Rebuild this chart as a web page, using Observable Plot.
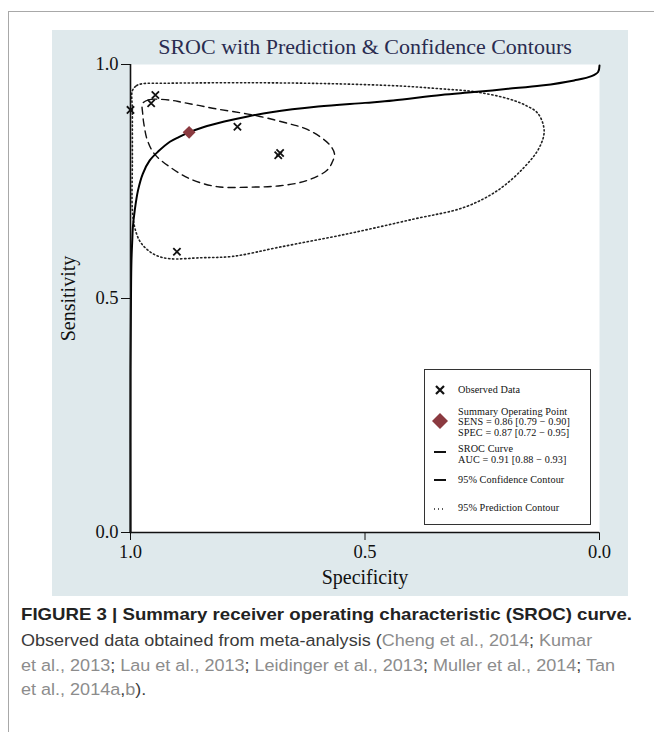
<!DOCTYPE html>
<html><head><meta charset="utf-8">
<script src="https://cdn.jsdelivr.net/npm/d3@7"></script>
<script src="https://cdn.jsdelivr.net/npm/@observablehq/plot@0.6"></script>
<style>
body{margin:0;background:#fff;width:654px;height:732px;position:relative;overflow:hidden;font-family:"Liberation Serif",serif}
#frameTop{position:absolute;left:8px;top:11px;width:646px;height:0;border-top:1px solid #a8a8a8}
#frameLeft{position:absolute;left:8px;top:11px;width:0;height:721px;border-left:1px solid #a8a8a8}
#chart{position:absolute;left:52px;top:30px}
#legend{position:absolute;left:424px;top:369px;width:165px;height:154px;border:1.5px solid #333;background:#fff}
.lt{position:absolute;left:33px;font-size:10.2px;line-height:10.2px;white-space:nowrap;color:#111;letter-spacing:0.1px}
.ls{position:absolute;left:5px}
.cap{position:absolute;left:21px;white-space:nowrap;font-family:"Liberation Sans",Arial,sans-serif;transform-origin:0 50%;line-height:24px}
.cap.b{font-weight:bold;font-size:16.5px;color:#222}
.cap.r{font-size:16.3px;color:#3a3a3a}
.g{color:#8c8c8c}
</style></head>
<body>
<div id="frameTop"></div><div id="frameLeft"></div>
<div id="chart"></div>
<div id="legend">
  <svg class="ls" style="top:13px" width="20" height="14"><path d="M6,3L14,11M6,11L14,3" stroke="#111" stroke-width="2.2"/></svg>
  <div class="lt" style="top:15px">Observed Data</div>
  <svg class="ls" style="top:41px" width="20" height="20"><path d="M10,2L18,10L10,18L2,10Z" fill="#8b3a40"/></svg>
  <div class="lt" style="top:36.5px">Summary Operating Point</div>
  <div class="lt" style="top:47px">SENS = 0.86 [0.79 − 0.90]</div>
  <div class="lt" style="top:57.5px">SPEC = 0.87 [0.72 − 0.95]</div>
  <svg class="ls" style="top:75px" width="20" height="14"><path d="M4,7H16" stroke="#111" stroke-width="2"/></svg>
  <div class="lt" style="top:74px">SROC Curve</div>
  <div class="lt" style="top:84.5px">AUC = 0.91 [0.88 − 0.93]</div>
  <svg class="ls" style="top:103px" width="20" height="14"><path d="M4,7H16" stroke="#111" stroke-width="2"/></svg>
  <div class="lt" style="top:105px">95% Confidence Contour</div>
  <svg class="ls" style="top:131px" width="20" height="14"><path d="M4,8H16" stroke="#222" stroke-width="1.3" stroke-dasharray="1,3"/></svg>
  <div class="lt" style="top:133px">95% Prediction Contour</div>
</div>
<div class="cap b" id="c1" style="top:602px">FIGURE 3 | Summary receiver operating characteristic (SROC) curve.</div>
<div class="cap r" id="c2" style="top:628px">Observed data obtained from meta-analysis (<span class="g">Cheng et al., 2014</span>; <span class="g">Kumar</span></div>
<div class="cap r" id="c3" style="top:653px"><span class="g">et al., 2013</span>; <span class="g">Lau et al., 2013</span>; <span class="g">Leidinger et al., 2013</span>; <span class="g">Muller et al., 2014</span>; <span class="g">Tan</span></div>
<div class="cap r" id="c4" style="top:677px"><span class="g">et al., 2014a</span>,<span class="g">b</span>).</div>
<script>
// ---- data ----
const xTicks = [1, 0.5, 0];
const yTicks = [0, 0.5, 1];
const obsSpec = [1.000, 0.956, 0.947, 0.772, 0.685, 0.681, 0.901];
const obsSens = [0.903, 0.917, 0.935, 0.867, 0.806, 0.811, 0.600];
const summarySpec = [0.875];
const summarySens = [0.855];
const srocSpec = [1.000, 1.000, 0.999, 0.998, 0.996, 0.995, 0.991, 0.984, 0.974, 0.959, 0.940, 0.916, 0.897, 0.875, 0.845, 0.800, 0.750, 0.700, 0.600, 0.500, 0.440, 0.338, 0.268, 0.195, 0.124, 0.054, 0.017, 0.003, 0.000];
const srocSens = [0.000, 0.350, 0.500, 0.580, 0.630, 0.652, 0.688, 0.731, 0.766, 0.795, 0.815, 0.835, 0.845, 0.855, 0.866, 0.878, 0.889, 0.898, 0.910, 0.918, 0.923, 0.935, 0.941, 0.948, 0.955, 0.966, 0.975, 0.984, 0.998];
const confSpec = [0.974, 0.959, 0.949, 0.916, 0.889, 0.852, 0.816, 0.767, 0.724, 0.660, 0.627, 0.595, 0.574, 0.565, 0.570, 0.581, 0.624, 0.681, 0.745, 0.816, 0.874, 0.916, 0.949, 0.964, 0.971, 0.974];
const confSens = [0.917, 0.925, 0.926, 0.924, 0.919, 0.912, 0.905, 0.897, 0.889, 0.873, 0.863, 0.845, 0.827, 0.809, 0.791, 0.774, 0.752, 0.741, 0.738, 0.739, 0.756, 0.781, 0.809, 0.838, 0.870, 0.895];
const predSpec = [0.996, 0.987, 0.974, 0.923, 0.745, 0.574, 0.424, 0.338, 0.268, 0.195, 0.156, 0.131, 0.118, 0.128, 0.160, 0.217, 0.288, 0.395, 0.538, 0.681, 0.782, 0.852, 0.916, 0.945, 0.966, 0.981, 0.991, 0.996, 0.996, 0.996];
const predSens = [0.944, 0.955, 0.959, 0.960, 0.961, 0.959, 0.954, 0.948, 0.942, 0.927, 0.912, 0.895, 0.859, 0.823, 0.781, 0.731, 0.695, 0.670, 0.638, 0.610, 0.590, 0.587, 0.585, 0.592, 0.606, 0.624, 0.652, 0.688, 0.795, 0.902];

const zip = (a, b) => a.map((v, i) => ({spec: v, sens: b[i]}));
const obs = zip(obsSpec, obsSens);
const summary = zip(summarySpec, summarySens);
const sroc = zip(srocSpec, srocSens);
const conf = zip(confSpec, confSens);
const pred = zip(predSpec, predSens);

const chart = Plot.plot({
  width: 576, height: 566,
  marginLeft: 78, marginRight: 29, marginTop: 34, marginBottom: 64,
  style: {background: "#dfe9ec", fontFamily: "Liberation Serif", fontSize: "18.5px", color: "#111", overflow: "visible"},
  x: {domain: [1, 0], ticks: xTicks, tickFormat: d3.format(".1f"), tickSize: 8, tickPadding: 4, label: null},
  y: {domain: [0, 1], ticks: yTicks, tickFormat: d3.format(".1f"), tickSize: 9, tickPadding: 3, label: null},
  marks: [
    Plot.frame({fill: "white", stroke: null}),
    Plot.line(pred, {x: "spec", y: "sens", curve: "catmull-rom-closed", stroke: "#222", strokeWidth: 1.6, strokeDasharray: "1.3,2.7"}),
    Plot.line(conf, {x: "spec", y: "sens", curve: "catmull-rom-closed", stroke: "#111", strokeWidth: 1.4, strokeDasharray: "7,5"}),
    Plot.line(sroc, {x: "spec", y: "sens", curve: "catmull-rom", stroke: "#000", strokeWidth: 2}),
    Plot.ruleX([1], {stroke: "#111", strokeWidth: 1.6}),
    Plot.ruleY([0], {stroke: "#111", strokeWidth: 1.6}),
    Plot.dot(obs, {x: "spec", y: "sens", symbol: "times", r: 3.4, stroke: "#111", strokeWidth: 1.8}),
    Plot.dot(summary, {x: "spec", y: "sens", symbol: "diamond2", r: 5.8, fill: "#8b3a40", stroke: null}),
    Plot.text(["SROC with Prediction & Confidence Contours"], {frameAnchor: "top", lineAnchor: "middle", dy: -17.5, fontSize: 22, fill: "#2a2c50", text: d => d}),
    Plot.text(["Specificity"], {frameAnchor: "bottom", lineAnchor: "middle", dy: 45, fontSize: 20, fill: "#111", text: d => d}),
    Plot.text(["Sensitivity"], {frameAnchor: "left", textAnchor: "middle", lineAnchor: "middle", dx: -62, rotate: -90, fontSize: 20, fill: "#111", text: d => d})
  ]
});
document.getElementById("chart").appendChild(chart);

// fit caption line widths to the reference
function fit(id, target) {
  const el = document.getElementById(id);
  const w = el.getBoundingClientRect().width;
  const k = target / w;
  el.style.transform = `scaleX(${k})`;
  return k;
}
fit("c1", 611);
const k = fit("c3", 594);
document.getElementById("c2").style.transform = `scaleX(${k})`;
document.getElementById("c4").style.transform = `scaleX(${k})`;
</script>
</body></html>
